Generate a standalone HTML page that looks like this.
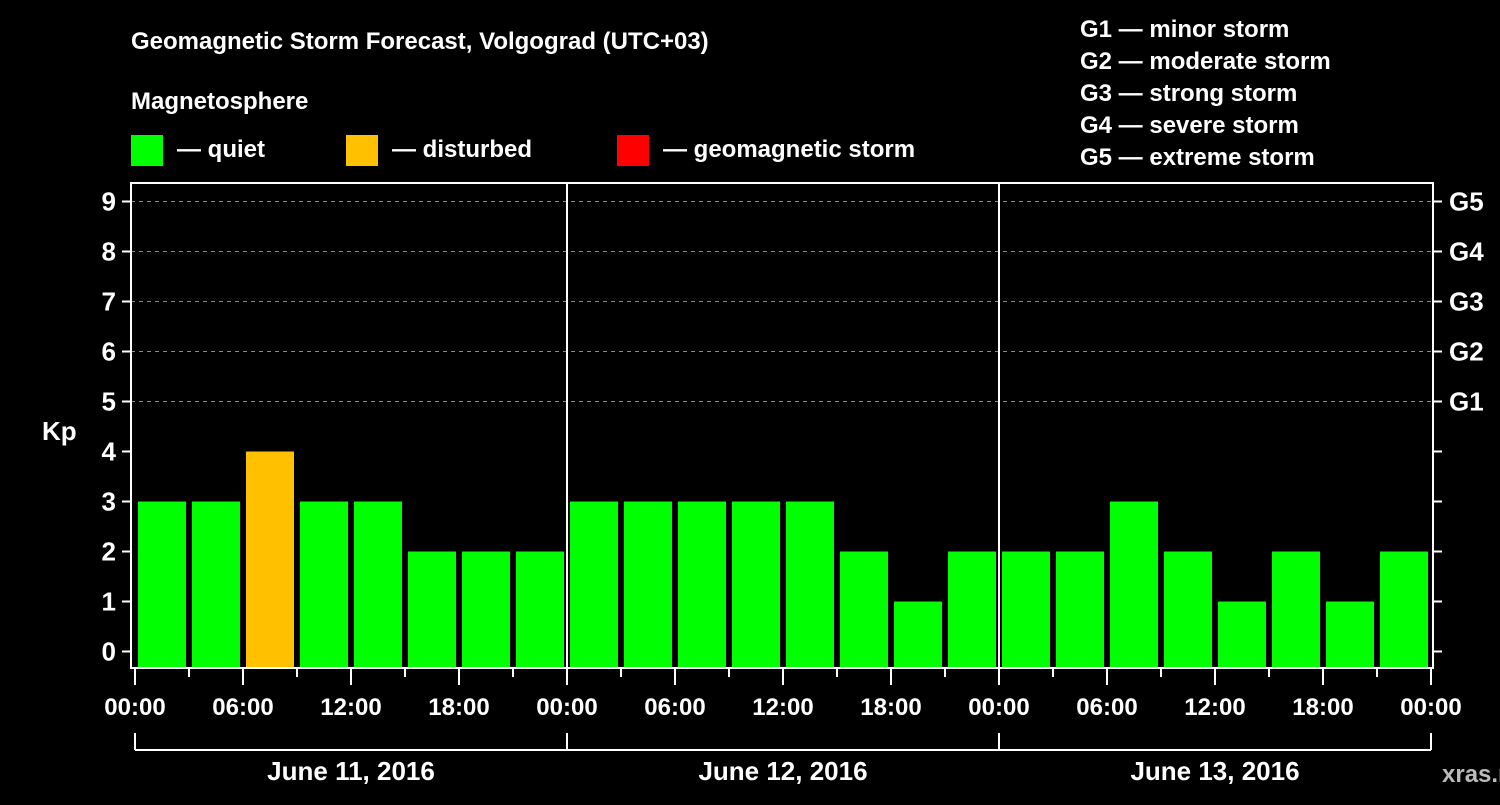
<!DOCTYPE html>
<html><head><meta charset="utf-8"><style>
body{margin:0;background:#000;width:1500px;height:800px;overflow:hidden}
svg text{font-family:"Liberation Sans",sans-serif;font-weight:bold;fill:#fff}
</style></head><body>
<svg id="c" width="1500" height="800" xmlns="http://www.w3.org/2000/svg">
<text x="131" y="49" font-size="24">Geomagnetic Storm Forecast, Volgograd (UTC+03)</text>
<text x="131" y="109" font-size="24">Magnetosphere</text>
<g>
<rect x="131" y="135" width="32" height="31" fill="#00ff00"/>
<text x="177" y="157" font-size="24">— quiet</text>
<rect x="346" y="135" width="32" height="31" fill="#ffc000"/>
<text x="392" y="157" font-size="24">— disturbed</text>
<rect x="617" y="135" width="32" height="31" fill="#ff0000"/>
<text x="663" y="157" font-size="24">— geomagnetic storm</text>
</g>
<g font-size="24">
<text x="1080" y="37">G1 — minor storm</text>
<text x="1080" y="69">G2 — moderate storm</text>
<text x="1080" y="101">G3 — strong storm</text>
<text x="1080" y="133">G4 — severe storm</text>
<text x="1080" y="165">G5 — extreme storm</text>
</g>
<text x="42" y="440" font-size="26">Kp</text>
<text x="1442" y="782" font-size="24" fill="#bbb" style="fill:#bbb">xras.ru</text>
<g id="plot"></g>
</svg>
<script>
const kpValues=[3,3,4,3,3,2,2,2, 3,3,3,3,3,2,1,2, 2,2,3,2,1,2,1,2];
const dayLabels=["June 11, 2016","June 12, 2016","June 13, 2016"];
const hourLabels=["00:00","06:00","12:00","18:00"];
const gLabels=["G1","G2","G3","G4","G5"];
const NS="http://www.w3.org/2000/svg";
const g=document.getElementById('plot');
const L=131,R=1433,T=183,B=668,X0=135,SLOT=54;
const y=v=>651.5-v*50;
const x=i=>X0+i*SLOT;
function mk(t,a){const e=document.createElementNS(NS,t);for(const k in a)e.setAttribute(k,a[k]);g.appendChild(e);return e;}
// grid
for(let v=5;v<=9;v++){const e=mk('line',{x1:L,x2:R,y1:y(v),y2:y(v),stroke:'#888','stroke-dasharray':'4 4','stroke-width':1});

}
// bars
kpValues.forEach((v,i)=>{const col=v>=5?'#ff0000':(v>=4?'#ffc000':'#00ff00');
const e=mk('rect',{x:x(i)+3,y:y(v),width:48,height:667-y(v),fill:col});

});
// day separators
for(let d=1;d<dayLabels.length;d++){const e=mk('line',{x1:x(d*8),x2:x(d*8),y1:T,y2:B,stroke:'#fff','stroke-width':2});

}
// frame
const fr=mk('rect',{x:L,y:T,width:R-L,height:B-T,fill:'none',stroke:'#fff','stroke-width':2});


// y ticks
for(let v=0;v<=9;v++){
const a=mk('line',{x1:122,x2:L,y1:y(v),y2:y(v),stroke:'#fff','stroke-width':2});


const b=mk('line',{x1:R,x2:1442,y1:y(v),y2:y(v),stroke:'#fff','stroke-width':2});


const t=mk('text',{x:116,y:y(v)+9,'font-size':26,'text-anchor':'end'});t.textContent=v;

}
gLabels.forEach((s,i)=>{const t=mk('text',{x:1449,y:y(i+5)+9,'font-size':26});t.textContent=s;

});
// x ticks
const n=kpValues.length;
for(let i=0;i<=n;i++){const major=i%2==0;
const e=mk('line',{x1:x(i),x2:x(i),y1:B,y2:major?685:677,stroke:'#fff','stroke-width':2});


if(major){const t=mk('text',{x:x(i),y:715,'font-size':24,'text-anchor':'middle'});t.textContent=hourLabels[(i/2)%4];

}}
// date bracket
const br=mk('line',{x1:x(0),x2:x(n),y1:750,y2:750,stroke:'#fff','stroke-width':2});


for(let d=0;d<=dayLabels.length;d++){const e=mk('line',{x1:x(d*8),x2:x(d*8),y1:733,y2:750,stroke:'#fff','stroke-width':2});

}
dayLabels.forEach((s,d)=>{const t=mk('text',{x:x(d*8+4),y:780,'font-size':26,'text-anchor':'middle'});t.textContent=s;

});
</script>
</body></html>
